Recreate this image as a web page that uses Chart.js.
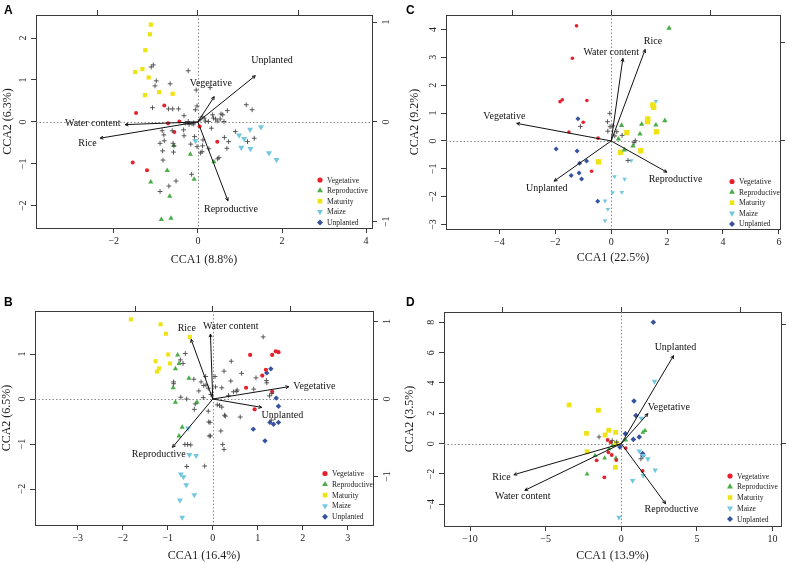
<!DOCTYPE html>
<html>
<head>
<meta charset="utf-8">
<script src="https://cdn.jsdelivr.net/npm/chart.js@4/dist/chart.umd.min.js"></script>
<style>
  body { margin: 0; background: #fff; }
  #wrap { position: relative; width: 787px; height: 562px; overflow: hidden; }
  canvas { position: absolute; }
  .tag { position: absolute; font: bold 12px "Liberation Sans", Arial, sans-serif; line-height: 12px; color: #000; }
</style>
</head>
<body>
<div id="wrap">
  <canvas id="cA" width="393" height="281" style="left:0;top:0"></canvas>
  <canvas id="cC" width="394" height="281" style="left:393px;top:0"></canvas>
  <canvas id="cB" width="393" height="281" style="left:0;top:281px"></canvas>
  <canvas id="cD" width="394" height="281" style="left:393px;top:281px"></canvas>
  <div class="tag" style="left:4px;top:4px">A</div>
  <div class="tag" style="left:406px;top:4px">C</div>
  <div class="tag" style="left:4px;top:296px">B</div>
  <div class="tag" style="left:406px;top:296px">D</div>
</div>
<script>
/* ---------- Data ---------- */
const groupNames = ["Vegetative", "Reproductive", "Maturity", "Maize", "Unplanted"];
const arrowNames = ["Vegetative", "Reproductive", "Unplanted", "Water content", "Rice"];

// Panel A
const aVegetative = [[-1.47,0.21],[-0.80,0.39],[-0.71,-0.03],[-0.44,0.01],[-0.56,-0.24],[0.04,-0.11],[0.46,-0.47],[-1.55,-0.97],[-1.21,-1.15]];
const aReproductive = [[-0.57,-0.56],[-0.18,-0.77],[0.38,-0.95],[-0.73,-1.16],[-0.09,-1.37],[-1.12,-1.43],[-0.67,-1.77],[-0.87,-2.33],[-0.64,-2.30]];
const aMaturity = [[-1.12,2.32],[-1.14,2.09],[-1.25,1.71],[-1.49,1.19],[-1.32,1.26],[-1.17,1.06],[-0.92,0.71],[-1.26,0.64],[-0.60,0.67]];
const aMaize = [[-0.06,-0.45],[0.98,-0.32],[1.10,-0.40],[1.24,-0.18],[1.50,-0.12],[1.03,-0.61],[1.25,-0.64],[1.69,-0.74],[1.87,-0.90]];
const aUnplanted = [];
const aSpecies = [[-1.06,1.36],[-1.11,1.31],[-0.23,1.22],[-0.99,0.98],[-1.02,0.86],[-0.66,0.91],[-1.08,0.34],[-0.70,0.31],[-0.60,0.31],[-0.46,0.31],
  [-0.33,0.15],[-0.85,-0.21],[-0.81,-0.31],[-0.80,-0.45],[-0.61,-0.21],[-0.34,-0.19],[-0.59,-0.51],[-0.57,-0.57],[-0.58,-0.72],[-0.90,-0.51],
  [-0.84,-0.69],[-0.52,-1.41],[-0.69,-1.53],[-0.90,-1.66],[-0.15,-1.25],[-0.83,-0.91],[-0.08,-0.35],[-0.23,0.01],[-0.10,-0.02],[-0.06,0.29],
  [-0.02,0.38],[-0.04,0.76],[0.29,0.82],[1.15,0.41],[1.29,0.29],[0.70,0.27],[0.55,0.19],[0.59,0.17],[0.37,0.09],[0.42,0.07],
  [0.18,0.02],[0.25,0.01],[0.62,0.01],[0.46,0.02],[0.32,-0.15],[0.63,-0.37],[0.73,-0.47],[0.89,-0.23],[1.18,-0.47],[1.34,-0.39],
  [0.12,-0.43],[-0.02,-0.59],[0.11,-0.57],[0.10,-0.71],[0.69,-0.63],[0.47,-0.88],[0.50,-0.85],[-0.17,-0.53],[0.06,-0.74],[0.26,-0.64],
  [-0.33,-0.33],[-0.21,-0.06],[-0.14,-0.04],[-0.10,-0.05],[0.15,0.09],[0.35,0.17],[0.53,0.07],[0.05,0.05],[-0.30,-0.03],[0.10,0.12]];
const aArrows = [[0.163,0.253],[0.30,-0.79],[0.573,0.463],[-0.727,-0.027],[-0.977,-0.163]];
const aXTicks = [-2, 0, 2, 4];
const aYTicks = [-2, -1, 0, 1, 2];

// Panel B
const bVegetative = [[0.83,0.98],[1.32,0.98],[1.40,1.06],[1.46,1.04],[1.18,0.65],[1.10,0.52],[0.74,0.25],[1.32,0.16],[0.93,-0.23]];
const bReproductive = [[-0.78,0.98],[-0.75,0.79],[-0.83,0.67],[-0.53,0.46],[-0.88,0.25],[-0.83,-0.07],[-0.35,-0.07],[-0.68,-0.63],[-0.75,-0.82]];
const bMaturity = [[-1.82,1.77],[-1.16,1.66],[-1.04,1.45],[-0.51,1.38],[-0.99,0.99],[-1.27,0.84],[-0.95,0.79],[-1.19,0.68],[-1.24,0.61]];
const bMaize = [[-0.55,-0.65],[-0.52,-1.24],[-0.37,-1.26],[-0.71,-1.67],[-0.65,-1.73],[-0.59,-1.91],[-0.41,-2.13],[-0.73,-2.25],[-0.68,-2.63]];
const bUnplanted = [[1.29,0.67],[1.20,0.58],[1.41,0.02],[1.46,-0.16],[1.27,-0.52],[1.35,-0.56],[1.46,-0.52],[0.90,-0.67],[1.16,-0.93]];
const bSpecies = [[-0.61,1.01],[-0.72,0.87],[-0.66,0.79],[-0.87,0.38],[-0.87,0.34],[-0.42,0.44],[-0.26,0.38],[-0.15,0.31],[-0.20,0.30],[-0.10,0.24],
  [-0.04,0.10],[-0.71,0.04],[-0.21,0.03],[-0.41,-0.23],[-0.10,-0.27],[-0.09,-0.51],[-0.05,-0.82],[-0.62,-1.01],[-0.56,-1.01],[-0.49,-1.02],
  [-0.58,-1.50],[-0.18,-1.49],[1.12,1.38],[0.41,0.84],[0.25,0.62],[0.64,0.57],[0.40,0.40],[0.05,0.50],[0.20,0.25],[0.06,0.27],
  [0.46,0.16],[0.53,0.17],[0.35,0.08],[1.20,0.36],[1.19,0.41],[1.26,0.07],[1.31,0.12],[0.10,-0.13],[0.15,-0.14],[0.20,-0.18],
  [0.26,-0.36],[0.61,-0.40],[0.18,-0.71],[0.22,-1.01],[0.25,-1.12],[1.30,-0.47],[0.28,-0.38],[-0.06,-0.52],[-0.08,-0.82],[-0.16,0.50],
  [0.96,0.47],[0.91,0.22],[0.54,0.20],[-0.58,0.00],[-0.39,-0.11],[-0.31,0.18]];
const bArrows = [[0.981,0.159],[-0.520,-0.624],[0.632,-0.108],[-0.030,0.839],[-0.280,0.770]];
const bXTicks = [-3, -2, -1, 0, 1, 2, 3];
const bYTicks = [-2, -1, 0, 1];

// Panel C
const cVegetative = [[-1.24,4.13],[-1.39,2.97],[-1.83,1.41],[-1.75,1.48],[-0.87,1.45],[-1.00,0.67],[-1.51,0.32],[-0.47,0.10],[-0.70,-1.09]];
const cReproductive = [[2.07,4.05],[0.37,0.56],[1.09,0.60],[1.92,0.73],[1.60,0.57],[1.03,0.25],[0.26,0.07],[0.78,-0.18],[0.47,-0.32]];
const cMaturity = [[1.49,1.29],[1.52,1.21],[1.31,0.79],[1.30,0.69],[0.56,0.30],[1.62,0.33],[1.06,-0.35],[0.33,-0.41],[-0.45,-0.75]];
const cMaize = [[1.60,1.42],[0.72,-0.70],[0.12,-1.28],[0.48,-1.37],[0.38,-1.84],[0.05,-1.85],[-0.22,-2.15],[-0.12,-2.45],[-0.22,-2.86]];
const cUnplanted = [[-1.19,0.80],[-1.97,-0.29],[-1.22,-0.36],[-0.88,-0.72],[-1.13,-0.80],[-1.43,-1.24],[-1.15,-1.15],[-1.06,-1.37],[-0.48,-2.16]];
const cSpecies = [[-0.05,0.99],[-0.13,0.69],[-0.04,0.51],[0.06,0.54],[-1.10,0.52],[0.39,0.20],[0.86,0.01],[0.82,-0.06],[0.60,-0.70],[0.13,0.18],[0.20,0.33],[-0.12,0.35]];
const cArrows = [[-0.953,0.178],[0.562,-0.316],[-0.576,-0.407],[0.118,0.835],[0.343,0.926]];
const cXTicks = [-4, -2, 0, 2, 4, 6];
const cYTicks = [-3, -2, -1, 0, 1, 2, 3, 4];

// Panel D
const dVegetative = [[-0.90,0.24],[-0.70,0.09],[0.29,-0.29],[-0.85,-0.57],[-0.63,-0.75],[-1.63,-1.10],[-0.33,-1.08],[-1.12,-2.22],[1.41,-1.80]];
const dReproductive = [[1.57,0.86],[1.43,0.75],[0.29,0.24],[-1.74,-0.79],[-1.10,-0.95],[-0.35,-0.95],[-2.26,-2.00],[-0.59,-0.13],[-0.81,-0.35]];
const dMaturity = [[-3.45,2.55],[-1.51,2.20],[-2.30,0.68],[-0.83,0.88],[-1.07,0.57],[-0.37,0.75],[-0.33,0.02],[-2.26,-0.53],[-0.39,-1.56]];
const dMaize = [[2.20,4.10],[1.33,1.67],[1.19,-0.49],[1.45,-0.79],[1.76,-1.01],[2.24,-1.74],[1.45,-2.11],[0.75,-2.44],[-0.15,-4.86]];
const dUnplanted = [[2.12,8.00],[0.84,2.81],[0.97,1.85],[0.27,0.66],[0.80,0.28],[1.19,0.44],[-0.09,-0.22],[1.41,-0.66],[1.43,-0.79]];
const dSpecies = [[-1.47,0.44],[-0.60,0.20],[1.30,-1.00],[-0.30,0.10]];
const dArrows = [[0.223,0.251],[0.372,-0.503],[0.439,0.737],[-0.810,-0.391],[-0.902,-0.260]];
const dXTicks = [-10, -5, 0, 5, 10];
const dYTicks = [-4, -2, 0, 2, 4, 6, 8];

/* ---------- Styles ---------- */
const SERIF = '"Liberation Serif", "Times New Roman", serif';
const INK = "#3a3a3a";
const groupColors = ["#E8202B", "#48AE46", "#F0E314", "#72C8E0", "#35539F"];
const groupShapes = ["circle", "triangle", "rect", "triangle", "rectRot"];
const groupRotation = [0, 0, 0, 180, 0];

const panels = [
  { canvas: "cA", xTitle: "CCA1 (8.8%)", yTitle: "CCA2 (6.3%)",
    groups: [aVegetative, aReproductive, aMaturity, aMaize, aUnplanted], species: aSpecies, arrows: aArrows,
    xTicks: aXTicks, yTicks: aYTicks, secX: [-1, 0, 1], secY: [-1, 0, 1], secLabels: true,
    xRange: [-3.85, 4.14], yRange: [-2.53, 2.55], k: 0.42,
    box: { left: 36, right: 372, top: 15, bottom: 228 }, titlePad: { x: 15, y: 1.5 },
    sizes: [2, 3, 3, 3.5, 2.6], legend: { dx: 52, dy: 48, gap: 10.6 },
    labels: [[0.13,0.387],[0.33,-0.873],[0.74,0.62],[-1.05,-0.013],[-1.103,-0.213]] },
  { canvas: "cC", xTitle: "CCA1 (22.5%)", yTitle: "CCA2 (9.2%)",
    groups: [cVegetative, cReproductive, cMaturity, cMaize, cUnplanted], species: cSpecies, arrows: cArrows,
    xTicks: cXTicks, yTicks: cYTicks, secX: [-1, 0, 1], secY: [0, 1], secLabels: false,
    xRange: [-5.91, 6.04], yRange: [-3.16, 4.52], k: 0.282,
    box: { left: 53, right: 387, top: 15, bottom: 229 }, titlePad: { x: 17, y: 15.7 },
    sizes: [1.8, 3.1, 3.8, 2.6, 2.5], legend: { dx: 48, dy: 47.5, gap: 10.6 },
    labels: [[-1.077,0.246],[0.65,-0.384],[-0.65,-0.478],[0.0,0.892],[0.421,1.003]] },
  { canvas: "cB", xTitle: "CCA1 (16.4%)", yTitle: "CCA2 (6.5%)",
    groups: [bVegetative, bReproductive, bMaturity, bMaize, bUnplanted], species: bSpecies, arrows: bArrows,
    xTicks: bXTicks, yTicks: bYTicks, secX: [-1, 0, 1], secY: [-1, 0, 1], secLabels: true,
    xRange: [-3.95, 3.56], yRange: [-2.80, 1.956], k: 0.581,
    box: { left: 35, right: 373, top: 30, bottom: 244 }, titlePad: { x: 0, y: 0.7 },
    sizes: [2.1, 3, 2.9, 3.4, 2.7], legend: { dx: 48, dy: 51.5, gap: 10.8 },
    labels: [[1.312,0.168],[-0.697,-0.718],[0.899,-0.206],[0.232,0.942],[-0.335,0.908]] },
  { canvas: "cD", xTitle: "CCA1 (13.9%)", yTitle: "CCA2 (3.5%)",
    groups: [dVegetative, dReproductive, dMaturity, dMaize, dUnplanted], species: dSpecies, arrows: dArrows,
    xTicks: dXTicks, yTicks: dYTicks, secX: [-1, 0, 1], secY: [0, 1], secLabels: false,
    xRange: [-11.72, 10.56], yRange: [-5.43, 8.68], k: 0.127,
    box: { left: 51, right: 388, top: 31, bottom: 245 }, titlePad: { x: 0, y: 11.3 },
    sizes: [1.9, 2.8, 3.4, 3.2, 2.8], legend: { dx: 51, dy: 50, gap: 10.75 },
    labels: [[0.399,0.307],[0.422,-0.553],[0.455,0.802],[-0.827,-0.441],[-1.006,-0.279]] }
];

/* ---------- Helpers ---------- */
const toXY = arr => arr.map(p => ({ x: p[0], y: p[1] }));
const fmt = v => (v < 0 ? "\u2212" + Math.abs(v) : String(v));

function drawMarker(ctx, i, x, y, r, color) {
  ctx.fillStyle = color;
  ctx.beginPath();
  if (i === 0) {
    ctx.arc(x, y, r, 0, Math.PI * 2);
  } else if (i === 1) {
    ctx.moveTo(x, y - r); ctx.lineTo(x + r * 0.866, y + r / 2); ctx.lineTo(x - r * 0.866, y + r / 2);
  } else if (i === 2) {
    ctx.rect(x - r * 0.8, y - r * 0.8, r * 1.6, r * 1.6);
  } else if (i === 3) {
    ctx.moveTo(x, y + r); ctx.lineTo(x + r * 0.866, y - r / 2); ctx.lineTo(x - r * 0.866, y - r / 2);
  } else {
    ctx.moveTo(x, y - r); ctx.lineTo(x + r, y); ctx.lineTo(x, y + r); ctx.lineTo(x - r, y);
  }
  ctx.closePath();
  ctx.fill();
}

function linearAxis(p, H, W, which) {
  const base = {
    type: "linear",
    grid: { drawOnChartArea: false, drawTicks: true, tickLength: 5, color: INK, lineWidth: 1 },
    border: { display: true, color: INK, width: 1 },
    ticks: { font: { family: SERIF, size: 10 }, color: "#222", autoSkip: false, callback: fmt }
  };
  const titleFont = { family: SERIF, size: 12, lineHeight: 1 };
  if (which === "x") {
    return Object.assign(base, {
      position: "bottom", min: p.xRange[0], max: p.xRange[1],
      afterBuildTicks: s => { s.ticks = p.xTicks.map(v => ({ value: v })); },
      afterFit: s => { s.height = H - p.box.bottom; s.paddingLeft = 0; s.paddingRight = 0; },
      ticks: Object.assign(base.ticks, { padding: 2, maxRotation: 0, minRotation: 0 }),
      title: { display: true, text: p.xTitle, font: titleFont, color: "#222", padding: p.titlePad.x }
    });
  }
  if (which === "y") {
    return Object.assign(base, {
      position: "left", min: p.yRange[0], max: p.yRange[1],
      afterBuildTicks: s => { s.ticks = p.yTicks.map(v => ({ value: v })); },
      afterFit: s => { s.width = p.box.left; s.paddingTop = 0; s.paddingBottom = 0; },
      ticks: Object.assign(base.ticks, { padding: 2.5, minRotation: 90, maxRotation: 90, crossAlign: "center" }),
      title: { display: true, text: p.yTitle, font: titleFont, color: "#222", padding: p.titlePad.y }
    });
  }
  if (which === "x2") {
    return Object.assign(base, {
      position: "top", min: p.xRange[0] * p.k, max: p.xRange[1] * p.k,
      afterBuildTicks: s => { s.ticks = p.secX.map(v => ({ value: v })); },
      afterFit: s => { s.height = p.box.top; s.paddingLeft = 0; s.paddingRight = 0; },
      ticks: Object.assign(base.ticks, { display: false })
    });
  }
  return Object.assign(base, {
    position: "right", min: p.yRange[0] * p.k, max: p.yRange[1] * p.k,
    afterBuildTicks: s => { s.ticks = p.secY.map(v => ({ value: v })); },
    afterFit: s => { s.width = W - p.box.right; s.paddingTop = 0; s.paddingBottom = 0; },
    ticks: Object.assign(base.ticks, { display: p.secLabels, padding: 4, minRotation: 90, maxRotation: 90, crossAlign: "center" })
  });
}

/* ---------- Panels ---------- */
function makePanel(p) {
  const el = document.getElementById(p.canvas);
  const W = el.width, H = el.height;
  const datasets = [];

  p.arrows.forEach((a, i) => datasets.push({
    label: arrowNames[i], data: [{ x: 0, y: 0 }, { x: a[0], y: a[1] }],
    xAxisID: "x2", yAxisID: "y2", showLine: true,
    borderColor: "#111", borderWidth: 1, pointRadius: 0
  }));
  datasets.push({
    label: "species", data: toXY(p.species), xAxisID: "x", yAxisID: "y",
    pointStyle: "cross", pointRadius: 2.4, borderColor: "#4a4a4a", borderWidth: 0.9
  });
  p.groups.forEach((g, i) => datasets.push({
    label: groupNames[i], data: toXY(g), xAxisID: "x", yAxisID: "y",
    pointStyle: groupShapes[i], rotation: groupRotation[i], pointRadius: p.sizes[i],
    backgroundColor: groupColors[i], borderColor: groupColors[i], borderWidth: 0
  }));

  const overlay = {
    id: "overlay" + p.canvas,
    beforeDatasetsDraw(chart) {
      const { ctx, chartArea: ca, scales } = chart;
      const x0 = scales.x.getPixelForValue(0), y0 = scales.y.getPixelForValue(0);
      ctx.save();
      ctx.strokeStyle = "#8a8a8a";
      ctx.lineWidth = 1;
      ctx.setLineDash([1.5, 2]);
      ctx.beginPath();
      ctx.moveTo(Math.round(x0) + 0.5, ca.top); ctx.lineTo(Math.round(x0) + 0.5, ca.bottom);
      ctx.moveTo(ca.left, Math.round(y0) + 0.5); ctx.lineTo(ca.right, Math.round(y0) + 0.5);
      ctx.stroke();
      ctx.restore();
    },
    afterDatasetsDraw(chart) {
      const { ctx, chartArea: ca, scales } = chart;
      ctx.save();
      // arrow heads
      ctx.strokeStyle = "#111";
      ctx.lineWidth = 1;
      p.arrows.forEach((a, i) => {
        const pts = chart.getDatasetMeta(i).data;
        const ang = Math.atan2(pts[1].y - pts[0].y, pts[1].x - pts[0].x);
        const L = 3.5;
        ctx.beginPath();
        ctx.moveTo(pts[1].x - L * Math.cos(ang - 0.45), pts[1].y - L * Math.sin(ang - 0.45));
        ctx.lineTo(pts[1].x, pts[1].y);
        ctx.lineTo(pts[1].x - L * Math.cos(ang + 0.45), pts[1].y - L * Math.sin(ang + 0.45));
        ctx.stroke();
      });
      // arrow labels
      ctx.fillStyle = "#111";
      ctx.font = "10px " + SERIF;
      ctx.textAlign = "center";
      ctx.textBaseline = "middle";
      p.labels.forEach((l, i) => {
        ctx.fillText(arrowNames[i], scales.x2.getPixelForValue(l[0]), scales.y2.getPixelForValue(l[1]));
      });
      // legend
      const mx = ca.right - p.legend.dx;
      ctx.font = "7.6px " + SERIF;
      ctx.textAlign = "left";
      groupNames.forEach((name, i) => {
        const my = ca.bottom - p.legend.dy + i * p.legend.gap;
        drawMarker(ctx, i, mx, my, [2.6, 3.4, 2.9, 3.4, 3][i], groupColors[i]);
        ctx.fillStyle = "#222";
        ctx.fillText(name, mx + 7, my + 0.5);
      });
      ctx.restore();
    }
  };

  new Chart(el, {
    type: "scatter",
    data: { datasets },
    options: {
      responsive: false, animation: false, devicePixelRatio: 1, events: [],
      layout: { padding: 0 },
      plugins: { legend: { display: false }, tooltip: { enabled: false } },
      scales: {
        x: linearAxis(p, H, W, "x"),
        y: linearAxis(p, H, W, "y"),
        x2: linearAxis(p, H, W, "x2"),
        y2: linearAxis(p, H, W, "y2")
      }
    },
    plugins: [overlay]
  });
}

panels.forEach(makePanel);
</script>
</body>
</html>
